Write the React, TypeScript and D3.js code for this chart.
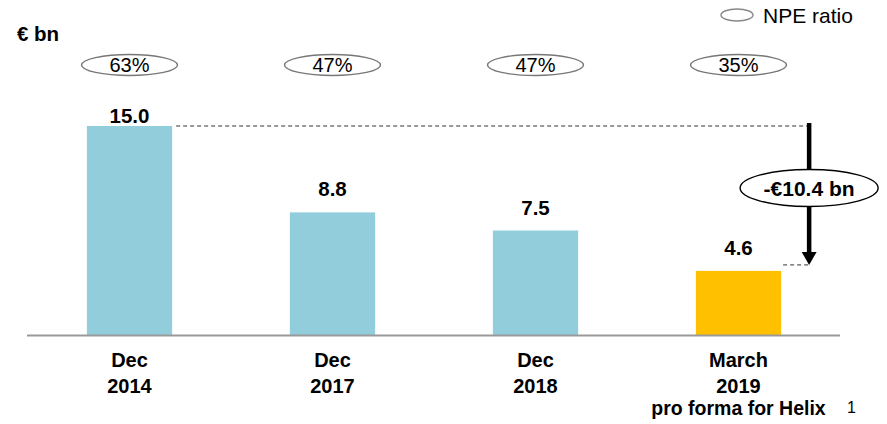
import React from "react";
import * as d3 from "d3";

const categories = ["Dec 2014", "Dec 2017", "Dec 2018", "March 2019"];
const labelLines = [["Dec", "2014"], ["Dec", "2017"], ["Dec", "2018"], ["March", "2019"]];
const subLabel = "pro forma for Helix";
const footnote = "1";
const values = [15.0, 8.8, 7.5, 4.6];
const npeRatios = ["63%", "47%", "47%", "35%"];
const barColors = ["#92CDDC", "#92CDDC", "#92CDDC", "#FFC000"];
const reductionLabel = "-€10.4 bn";

const W = 887;
const H = 424;
const FONT = "'Liberation Sans', Arial, sans-serif";

export default function App() {
  const x = d3.scaleBand<string>().domain(categories).range([28, 840]).paddingInner(0.58).paddingOuter(0.29);
  const y = d3.scaleLinear().domain([0, 15]).range([335, 126]);
  const bw = x.bandwidth();
  const firstTop = y(values[0]);
  const lastIdx = values.length - 1;
  const lastTop = y(values[lastIdx]);
  const lastCx = (x(categories[lastIdx]) as number) + bw / 2;
  const arrowX = (x(categories[lastIdx]) as number) + bw + 28;
  const arrowEnd = lastTop - 6;

  return (
    <svg width={W} height={H} style={{ position: "absolute", left: 0, top: 0 }} fontFamily={FONT}>
      {/* legend */}
      <ellipse cx={737} cy={15} rx={16} ry={6} fill="none" stroke="#888" strokeWidth={1.4} />
      <text x={763} y={23} fontSize={21} fill="#000">NPE ratio</text>
      <text x={17} y={40.5} fontSize={20.5} fontWeight="bold" fill="#000">€ bn</text>

      {/* NPE ratio ovals */}
      {categories.map((c, i) => {
        const cx = (x(c) as number) + bw / 2;
        return (
          <g key={"npe" + i}>
            <ellipse cx={cx} cy={65} rx={48} ry={10.5} fill="none" stroke="#777" strokeWidth={1.4} />
            <text x={cx} y={72} fontSize={20} textAnchor="middle" fill="#000">{npeRatios[i]}</text>
          </g>
        );
      })}

      {/* bars */}
      {categories.map((c, i) => (
        <rect key={"b" + i} x={x(c)} y={y(values[i])} width={bw} height={y(0) - y(values[i])} fill={barColors[i]} />
      ))}

      {/* value labels */}
      {categories.map((c, i) => {
        const cx = (x(c) as number) + bw / 2;
        const ty = Math.max(y(values[i]) - 16, 123);
        return (
          <text key={"v" + i} x={cx} y={ty} fontSize={20.5} fontWeight="bold" textAnchor="middle" fill="#000">
            {values[i].toFixed(1)}
          </text>
        );
      })}

      {/* axis line */}
      <line x1={27} x2={840} y1={335.5} y2={335.5} stroke="#999" strokeWidth={2} />

      {/* category labels */}
      {categories.map((c, i) => {
        const cx = (x(c) as number) + bw / 2;
        return (
          <g key={"l" + i}>
            {labelLines[i].map((t, j) => (
              <text key={j} x={cx} y={367 + j * 26} fontSize={20} fontWeight="bold" textAnchor="middle" fill="#000">{t}</text>
            ))}
          </g>
        );
      })}
      <text x={lastCx} y={415} fontSize={19.5} fontWeight="bold" textAnchor="middle" fill="#000">{subLabel}</text>
      <text x={847} y={413} fontSize={16} fill="#000">{footnote}</text>

      {/* reduction annotation */}
      <line x1={(x(categories[0]) as number) + bw + 4} x2={arrowX} y1={firstTop} y2={firstTop} stroke="#333" strokeWidth={1} strokeDasharray="4,3" />
      <line x1={(x(categories[lastIdx]) as number) + bw + 2} x2={arrowX} y1={arrowEnd} y2={arrowEnd} stroke="#333" strokeWidth={1} strokeDasharray="4,3" />
      <line x1={arrowX} x2={arrowX} y1={firstTop - 3} y2={arrowEnd - 12} stroke="#000" strokeWidth={4.5} />
      <path d={`M${arrowX - 7.5},${arrowEnd - 13} L${arrowX + 7.5},${arrowEnd - 13} L${arrowX},${arrowEnd} Z`} fill="#000" />
      <ellipse cx={arrowX} cy={188} rx={69} ry={18.5} fill="#fff" stroke="#000" strokeWidth={1.4} />
      <text x={arrowX} y={195.5} fontSize={21} fontWeight="bold" textAnchor="middle" fill="#000">{reductionLabel}</text>
    </svg>
  );
}
